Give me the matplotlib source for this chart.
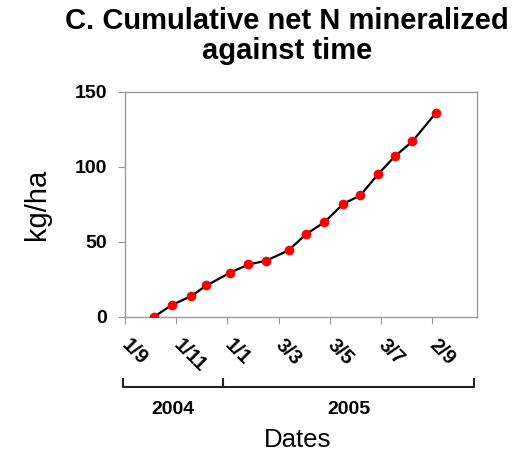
import numpy as np
import matplotlib.pyplot as plt
import matplotlib.transforms as mtransforms

plt.rcParams['font.family'] = ['Liberation Sans', 'DejaVu Sans']

# sampling dates and cumulative net N mineralized (kg/ha)
sample_dates = ["2004-10-05", "2004-10-27", "2004-11-19", "2004-12-07",
                "2005-01-04", "2005-01-26", "2005-02-16", "2005-03-15",
                "2005-04-04", "2005-04-26", "2005-05-19", "2005-06-08",
                "2005-06-29", "2005-07-19", "2005-08-09", "2005-09-06"]
cum_n = [0, 8, 14, 21, 29.5, 35, 37.5, 44.5,
         55, 63, 75.5, 81, 95, 107, 117, 136]

tick_dates = ["2004-09-01", "2004-11-01", "2005-01-01", "2005-03-03",
              "2005-05-03", "2005-07-03", "2005-09-02"]
tick_labels = ["1/9", "1/11", "1/1", "3/3", "3/5", "3/7", "2/9"]

years = ["2004", "2005"]
year_bounds = ["2004-08-30", "2004-12-27", "2005-10-21"]

x = np.array(sample_dates, dtype="datetime64[D]")
xt = np.array(tick_dates, dtype="datetime64[D]")
yb = np.array(year_bounds, dtype="datetime64[D]")

fig = plt.figure(figsize=(5.16, 4.54), dpi=100)
ax = fig.add_axes([0.2422, 0.3018, 0.6822, 0.4956])

ax.plot(x, cum_n, color="black", linewidth=1.6, zorder=2)
ax.plot(x, cum_n, linestyle="none", marker="o", markersize=7,
        color="#ff0000", markeredgewidth=0, zorder=3)

ax.set_xlim(np.datetime64("2004-09-01"), np.datetime64("2005-10-25"))
ax.set_ylim(0, 150)
ax.set_yticks([0, 50, 100, 150])
ax.set_xticks(xt)
ax.set_xticklabels(tick_labels, rotation=-45, ha="left", va="center",
                   rotation_mode="anchor", fontweight="bold", fontsize=14.5)
for lab in ax.get_yticklabels():
    lab.set_fontweight("bold")
    lab.set_fontsize(14)

for s in ax.spines.values():
    s.set_color("#999999")
    s.set_linewidth(1)
ax.tick_params(axis="both", direction="out", length=5, color="#999999")
ax.tick_params(axis="y", pad=8)
ax.tick_params(axis="x", pad=13)

ax.set_ylabel("kg/ha", fontsize=21, labelpad=17)

# year bracket under the date labels
trans = mtransforms.blended_transform_factory(ax.transData, ax.transAxes)
yl, yh = -0.311, -0.276
ax.plot([yb[0], yb[0], yb[2], yb[2]], [yh, yl, yl, yh], color="#222222",
        linewidth=1.5, transform=trans, clip_on=False)
ax.plot([yb[1], yb[1]], [yl, yh], color="#222222", linewidth=1.5,
        transform=trans, clip_on=False)
for i, yr in enumerate(years):
    mid = yb[i] + (yb[i + 1] - yb[i]) / 2
    ax.text(mid, -0.413, yr, transform=trans, ha="center", va="center",
            fontweight="bold", fontsize=14)

ax.text(0.49, -0.547, "Dates", transform=ax.transAxes, ha="center",
        va="center", fontsize=18.5)

fig.text(287 / 516, 1 - 36 / 454,
         "C. Cumulative net N mineralized\nagainst time",
         ha="center", va="center", fontsize=21, fontweight="bold",
         linespacing=1.05)

fig.savefig("out.png", dpi=100)
